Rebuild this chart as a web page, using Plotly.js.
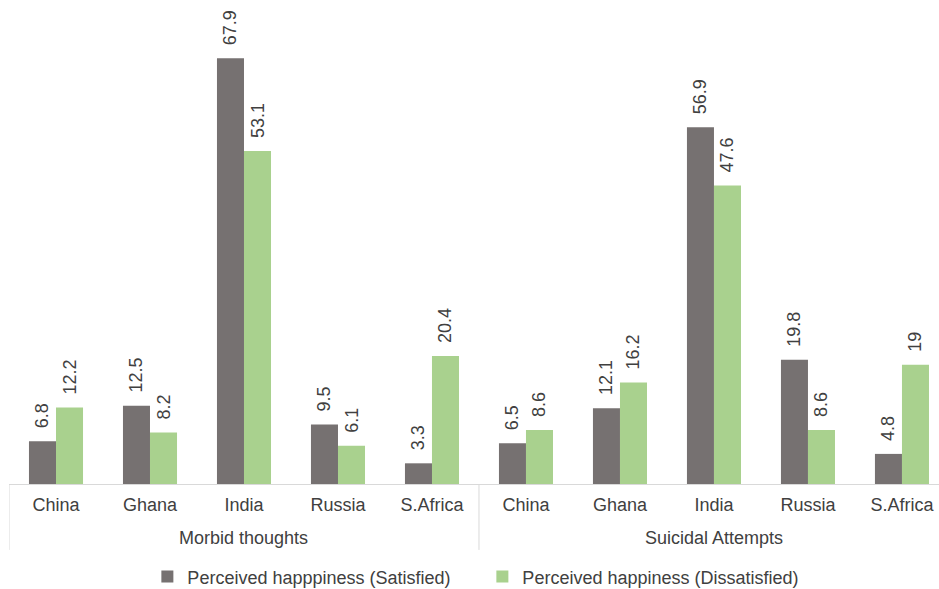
<!DOCTYPE html>
<html>
<head>
<meta charset="utf-8">
<script src="https://cdn.plot.ly/plotly-3.0.1.min.js"></script>
<style>html,body{margin:0;padding:0;background:#fff;}#chart{width:939px;height:589px;}</style>
</head>
<body>
<div id="chart"></div>
<script>
const groupNames = ['Morbid thoughts', 'Suicidal Attempts'];
const countries = ['China','Ghana','India','Russia','S.Africa','China','Ghana','India','Russia','S.Africa'];
const satisfied = [6.8, 12.5, 67.9, 9.5, 3.3, 6.5, 12.1, 56.9, 19.8, 4.8];
const dissatisfied = [12.2, 8.2, 53.1, 6.1, 20.4, 8.6, 16.2, 47.6, 8.6, 19];
const seriesNames = ['Perceived happpiness (Satisfied)', 'Perceived happiness (Dissatisfied)'];

const FAM = 'Liberation Sans, Arial, sans-serif';
const TXT = '#404040';
const xs = countries.map((_, i) => i);
const perGroup = countries.length / groupNames.length;

const mk = (y, name, color) => ({
  type: 'bar', x: xs, y: y, name: name,
  marker: {color: color},
  text: y.map(v => '\u00a0\u00a0' + v), textposition: 'outside', textangle: -90,
  constraintext: 'none', cliponaxis: false,
  textfont: {family: FAM, color: TXT, size: 18},
  hoverinfo: 'skip'
});
const data = [mk(satisfied, seriesNames[0], '#767171'), mk(dissatisfied, seriesNames[1], '#A9D18E')];

// the chart is cropped on the right: the last category is partially out of view
const xMax = countries.length - 0.5 - 0.106;

const annotations = groupNames.map((g, k) => ({
  xref: 'x', yref: 'paper', x: k * perGroup + (perGroup - 1) / 2, y: -0.114,
  text: g, showarrow: false, yanchor: 'middle', xanchor: 'center',
  font: {family: FAM, size: 18, color: TXT}
}));
const shapes = [];
for (let k = 0; k < groupNames.length; k++) {
  const xb = k * perGroup - 0.5;
  shapes.push({type: 'line', xref: 'x', yref: 'paper', x0: xb, x1: xb, y0: 0, y1: -0.139,
               line: {color: '#d9d9d9', width: 1}});
}

const layout = {
  width: 939, height: 589,
  margin: {l: 9, r: 0, t: 10, b: 105, autoexpand: false},
  paper_bgcolor: '#fff', plot_bgcolor: '#fff',
  font: {family: FAM, color: TXT, size: 18},
  barmode: 'group', bargap: 0.425, bargroupgap: 0,
  xaxis: {range: [-0.5, xMax], automargin: false,
          showline: true, linecolor: '#d9d9d9', linewidth: 1,
          tickmode: 'array', tickvals: xs, ticktext: countries,
          ticks: '', ticklabelstandoff: 4, tickfont: {family: FAM, size: 18, color: TXT},
          showgrid: false, zeroline: false},
  yaxis: {range: [0, 75.6], visible: false, showgrid: false, zeroline: false, automargin: false},
  annotations: annotations,
  shapes: shapes,
  showlegend: true,
  legend: {orientation: 'h', x: 0.509, xanchor: 'center', y: -0.196, yanchor: 'middle',
           entrywidth: 290, entrywidthmode: 'pixels',
           font: {family: FAM, size: 18, color: TXT}}
};
Plotly.newPlot('chart', data, layout, {displayModeBar: false, staticPlot: true});
</script>
</body>
</html>
